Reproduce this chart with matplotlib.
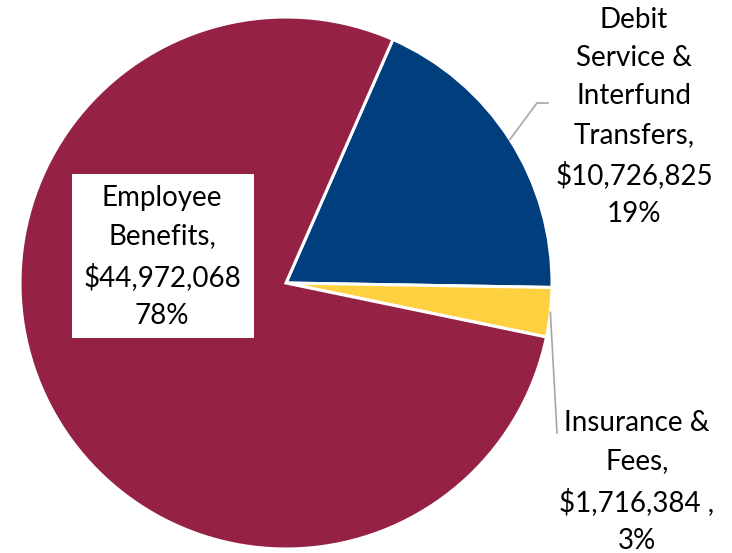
import numpy as np
import matplotlib
matplotlib.use('Agg')
import matplotlib.pyplot as plt
from matplotlib.patches import Rectangle

# spending categories, in drawing order (clockwise from the top-right)
categories = ['Debit\nService &\nInterfund\nTransfers,', 'Insurance &\nFees,', 'Employee\nBenefits,']
amounts = [10726825, 1716384, 44972068]
amount_text = ['$10,726,825', '$1,716,384 ,', '$44,972,068']
colors = ['#003E7E', '#FFD141', '#952245']

plt.rcParams['font.family'] = ['Lato', 'DejaVu Sans']

fig = plt.figure(figsize=(7.32, 5.53), dpi=100)
ax = fig.add_axes([0, 0, 1, 1])

cx, cy, r = 286, 270, 266  # pie centre and radius, in pixel units
wedges, _ = ax.pie(amounts, colors=colors, startangle=66.3, counterclock=False,
                   center=(cx, cy), radius=r, frame=True,
                   wedgeprops=dict(edgecolor='white', linewidth=2.2))
ax.set_xlim(0, 732)
ax.set_ylim(0, 553)
ax.set_aspect('equal')
ax.axis('off')

total = sum(amounts)
pcts = [round(a / total * 100) for a in amounts]
labels = [f'{c}\n{t}\n{p}%' for c, t, p in zip(categories, amount_text, pcts)]

txt = dict(fontsize=20, ha='center', va='center', linespacing=1.58, color='black')

# Employee Benefits sits inside the big slice on a white box
ax.add_patch(Rectangle((72, 553 - 338), 182, 164, facecolor='white', edgecolor='none', zorder=3))
ax.text(162, 553 - 257, labels[2], zorder=4, **txt)

# outside labels with grey leader lines
ax.text(634, 553 - 117, labels[0], **txt)
ax.text(637, 553 - 482, labels[1], **txt)


def edge_point(w):
    mid = np.deg2rad((w.theta1 + w.theta2) / 2)
    return cx + r * np.cos(mid), cy + r * np.sin(mid)


x0, y0 = edge_point(wedges[0])
ax.plot([x0, 537, 548], [y0, 553 - 103, 553 - 103], color='#A6A6A6', lw=1.2)
x1, y1 = edge_point(wedges[1])
ax.plot([x1, 557], [y1, 553 - 433], color='#A6A6A6', lw=1.2)

fig.savefig('out.png', dpi=100)
